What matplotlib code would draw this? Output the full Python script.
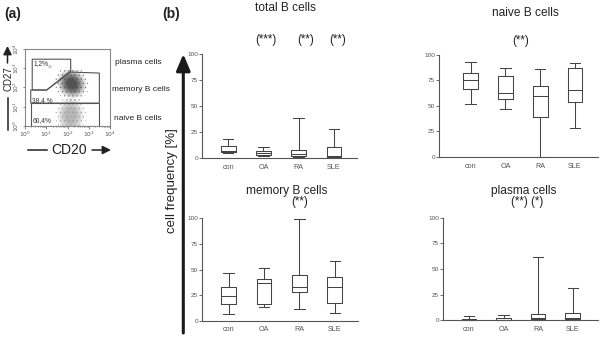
import matplotlib
matplotlib.use("Agg")
import matplotlib.pyplot as plt
from matplotlib.patches import Polygon, Ellipse, FancyArrowPatch

plt.rcParams['font.family'] = ['Liberation Sans', 'DejaVu Sans']
plt.rcParams['hatch.linewidth'] = 0.4

W, H = 600, 347

groups = ["con", "OA", "RA", "SLE"]

# per group: whisker low, q1, median, q3, whisker high  (cell frequency in %)
total_b = [[5, 6, 7, 12, 18.5], [2, 3, 4.5, 7, 11], [1, 2, 3.5, 7.4, 39], [1, 1.3, 2.3, 10.3, 27.6]]
naive_b = [[51.6, 66.3, 75.5, 82, 92.8], [47.4, 56.9, 63, 79.7, 87], [0.3, 39.5, 60, 70, 86.3], [28.8, 53.6, 65.4, 87.3, 91.8]]
memory_b = [[6.2, 16.6, 23.8, 32.6, 46.3], [13, 16.6, 36.5, 40.4, 51.8], [11, 27.7, 33.2, 45, 99], [7.2, 17.6, 33.2, 42.3, 58.6]]
plasma = [[0, 0.3, 0.6, 1.3, 3.9], [0, 0.3, 0.6, 1.9, 5.5], [0.3, 1, 2.3, 6.2, 61.7], [0.3, 1.3, 2.3, 7.5, 31.8]]

# gates of the dot plot, in log10 units (CD20, CD27)
gate_plasma = [(0.34, 3.47), (2.15, 3.47), (2.15, 2.86), (1.02, 1.87), (0.34, 1.87)]
gate_memory = [(0.27, 1.87), (1.02, 1.87), (2.15, 2.8), (3.5, 2.75), (3.5, 1.19), (0.27, 1.19)]
gate_naive = [(0.27, 1.19), (3.5, 1.19), (3.5, 0.0), (0.27, 0.0)]
gate_pct = ["1,2%", "38,4 %", "60,4%"]


def frac(x, y):
    return x / W, 1 - y / H


fig = plt.figure(figsize=(6, 3.47), dpi=100)

# ---------- (a) dot plot ----------
axf = fig.add_axes([25 / W, 1 - 126 / H, 85 / W, 77 / H])
axf.set_xlim(0, 4)
axf.set_ylim(0, 4)
for sp in axf.spines.values():
    sp.set_color("#888888")
    sp.set_linewidth(0.8)

# dot clouds (soft blobs + speckle)
for w, h, a in [(1.3, 1.5, 0.14), (1.1, 1.25, 0.2), (0.9, 1.05, 0.25), (0.7, 0.85, 0.28), (0.5, 0.6, 0.28)]:
    axf.add_patch(Ellipse((2.2, 2.2), w, h, angle=20, color="#1a1a1a", alpha=a, lw=0))
for w, h, a in [(1.2, 1.8, 0.16), (1.0, 1.5, 0.2), (0.8, 1.2, 0.22), (0.55, 0.9, 0.25)]:
    axf.add_patch(Ellipse((2.15, 0.55), w, h, color="#8a8a8a", alpha=a, lw=0))
axf.add_patch(Ellipse((2.2, 2.2), 1.6, 1.8, angle=20, fill=False, hatch="....", color="#444444", lw=0, alpha=0.6))
axf.add_patch(Ellipse((2.15, 0.6), 1.5, 1.9, fill=False, hatch="....", color="#999999", lw=0, alpha=0.7))
axf.add_patch(Ellipse((1.2, 2.8), 1.3, 0.9, fill=False, hatch=".", color="#bbbbbb", lw=0, alpha=0.6))

for g in [gate_plasma, gate_memory, gate_naive]:
    axf.add_patch(Polygon(g, closed=True, fill=False, edgecolor="#555555", lw=0.8))
for (x, y), t in zip([(0.39, 3.26), (0.33, 1.31), (0.36, 0.26)], gate_pct):
    axf.text(x, y, t, fontsize=4.8, color="#333333", va="center")

dec = [0, 1, 2, 3, 4]
axf.set_xticks(dec)
axf.set_yticks(dec)
axf.set_xticklabels([r"$10^{%d}$" % d for d in dec], fontsize=4.3, color="#444444")
axf.set_yticklabels([r"$10^{%d}$" % d for d in dec], fontsize=4.3, color="#444444", rotation=90, va="center")
minor = [d + m for d in range(4) for m in [0.301, 0.477, 0.602, 0.699, 0.778, 0.845, 0.903, 0.954]]
axf.set_xticks(minor, minor=True)
axf.tick_params(which="both", direction="out", length=1.8, width=0.5, colors="#555555", pad=1)
axf.tick_params(which="minor", length=1.0)

# ---------- (b) box plots ----------
panels = [
    ("total B cells", total_b, (202.3, 158, 357, 54.3), 0.27, 4.65, (285, 8.3)),
    ("naive B cells", naive_b, (439.3, 157, 598, 55), 0.10, 4.66, (525.7, 12.7)),
    ("memory B cells", memory_b, (202.3, 320.7, 358, 218.3), 0.26, 4.65, (286.7, 190.7)),
    ("plasma cells", plasma, (443.3, 320.3, 598, 217.7), 0.26, 4.73, (524, 190.7)),
]
stars = [
    [("(***)", 266.2, 40), ("(**)", 305.8, 40), ("(**)", 337.3, 40)],
    [("(**)", 521, 40.7)],
    [("(**)", 299.3, 202.3)],
    [("(**) (*)", 527.3, 202.3)],
]

line_kw = dict(color="#444444", lw=0.75)
for (title, data, (x0, y0, x1, y1), xlo, xhi, tpos), st in zip(panels, stars):
    ax = fig.add_axes([x0 / W, 1 - y0 / H, (x1 - x0) / W, (y0 - y1) / H])
    ax.patch.set_alpha(0)
    stats = [dict(whislo=d[0], q1=d[1], med=d[2], q3=d[3], whishi=d[4], fliers=[]) for d in data]
    arts = ax.bxp(stats, positions=[1, 2, 3, 4], widths=0.42, capwidths=0.3, showfliers=False,
                  boxprops=line_kw, whiskerprops=line_kw, capprops=line_kw,
                  medianprops=line_kw, manage_ticks=False)
    for k in arts:
        for a in arts[k]:
            a.set_clip_on(False)
    ax.set_xlim(xlo, xhi)
    ax.set_ylim(0, 100)
    ax.set_yticks([0, 25, 50, 75, 100])
    ax.set_xticks([1, 2, 3, 4])
    ax.set_xticklabels(groups)
    for s in ["top", "right"]:
        ax.spines[s].set_visible(False)
    for s in ["left", "bottom"]:
        ax.spines[s].set_color("#555555")
        ax.spines[s].set_linewidth(0.8)
    ax.tick_params(axis="y", direction="out", length=2, width=0.6, colors="#555555", labelsize=4.6, pad=1)
    ax.tick_params(axis="x", length=0, labelsize=5.2, colors="#555555", pad=4)
    fig.text(*frac(*tpos), title, fontsize=8.6, ha="center", va="center", color="#222222")
    for t, sx, sy in st:
        fig.text(*frac(sx, sy), t, fontsize=8.3, ha="center", va="center", color="#222222")

# ---------- overlay: labels and arrows ----------
ov = fig.add_axes([0, 0, 1, 1])
ov.set_xlim(0, W)
ov.set_ylim(H, 0)
ov.axis("off")
ov.patch.set_alpha(0)

ov.add_patch(FancyArrowPatch((183.3, 333), (183.3, 54), arrowstyle="-|>,head_length=1.0,head_width=0.42",
                             mutation_scale=10, lw=2.2, color="#1a1a1a", shrinkA=0, shrinkB=0))
ov.text(172.5, 181, "cell frequency [%]", rotation=90, fontsize=9.5, ha="center", va="center", color="#222222")

ov.add_patch(FancyArrowPatch((7.5, 63), (7.5, 46), arrowstyle="-|>,head_length=0.5,head_width=0.25",
                             mutation_scale=10, lw=1.1, color="#222222", shrinkA=0, shrinkB=0))
ov.plot([7.5, 7.5], [98, 130], color="#222222", lw=1.1)
ov.text(8, 79, "CD27", rotation=90, fontsize=7, ha="center", va="center", color="#222222")

ov.add_patch(FancyArrowPatch((92, 150), (111, 150), arrowstyle="-|>,head_length=0.5,head_width=0.25",
                             mutation_scale=10, lw=1.1, color="#222222", shrinkA=0, shrinkB=0))
ov.plot([28, 47], [150, 150], color="#222222", lw=1.1)
ov.text(69, 150, "CD20", fontsize=10, ha="center", va="center", color="#222222")

ov.text(115, 62, "plasma cells", fontsize=6, va="center", color="#222222")
ov.text(112.5, 89, "memory B cells", fontsize=6, va="center", color="#222222")
ov.text(113.5, 118, "naive B cells", fontsize=6, va="center", color="#222222")

ov.text(4, 14, "(a)", fontsize=10, fontweight="bold", va="center", color="#222222")
ov.text(162, 14, "(b)", fontsize=10, fontweight="bold", va="center", color="#222222")

fig.savefig("out.png", dpi=100)
